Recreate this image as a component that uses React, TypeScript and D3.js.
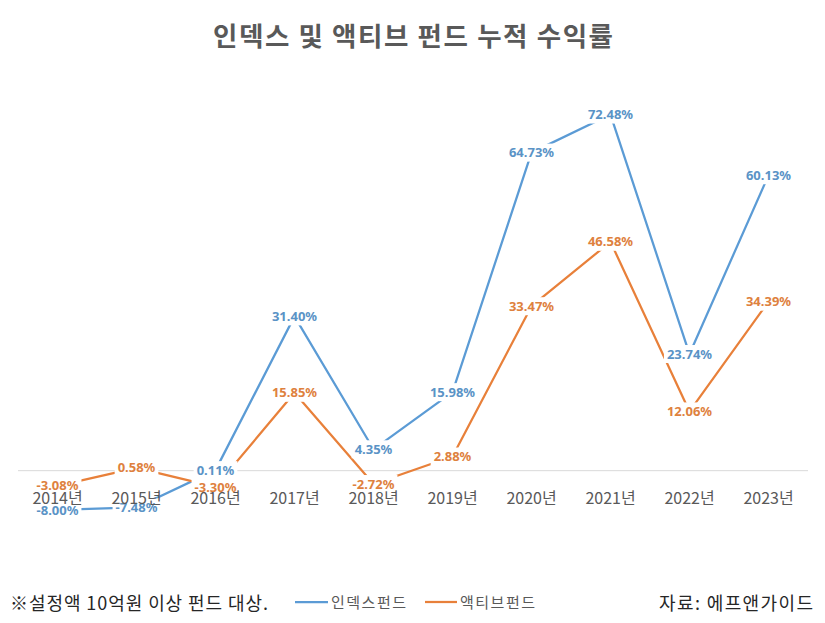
import React, { useEffect, useRef } from 'react';
import * as d3 from 'd3';

const years = ['2014년', '2015년', '2016년', '2017년', '2018년', '2019년', '2020년', '2021년', '2022년', '2023년'];
const indexFund = [-8.0, -7.48, 0.11, 31.4, 4.35, 15.98, 64.73, 72.48, 23.74, 60.13];
const activeFund = [-3.08, 0.58, -3.3, 15.85, -2.72, 2.88, 33.47, 46.58, 12.06, 34.39];
const seriesNames = ['인덱스펀드', '액티브펀드'];
const yDomain = [-10, 80];

const W = 825;
const H = 623;
const BLUE = '#5B9BD5';
const BLUE_TXT = '#5A93C6';
const ORANGE = '#E8803A';
const ORANGE_TXT = '#DE813E';
const KR = '"Noto Sans CJK KR", "Noto Sans", sans-serif';

export default function App() {
  const ref = useRef<SVGSVGElement>(null);

  useEffect(() => {
    const svg = d3.select(ref.current);
    svg.selectAll('*').remove();

    const x = d3.scaleBand<string>().domain(years).range([18, 808]).padding(0);
    const cx = (d: string) => (x(d) as number) + x.bandwidth() / 2;
    const y = d3.scaleLinear().domain(yDomain).range([519.8, 77.6]);

    // title
    svg.append('text')
      .attr('x', 213).attr('y', 45.5)
      .attr('textLength', 400).attr('lengthAdjust', 'spacing')
      .attr('font-family', KR).attr('font-weight', 700).attr('font-size', 26.5)
      .attr('fill', '#595959')
      .text('인덱스 및 액티브 펀드 누적 수익률');

    // zero line
    svg.append('line')
      .attr('x1', 18).attr('x2', 808)
      .attr('y1', y(0)).attr('y2', y(0))
      .attr('stroke', '#D9D9D9').attr('stroke-width', 1);

    const series = [
      { name: seriesNames[0], values: indexFund, color: BLUE, txt: BLUE_TXT },
      { name: seriesNames[1], values: activeFund, color: ORANGE, txt: ORANGE_TXT },
    ];

    const line = d3.line<number>()
      .x((_, i) => cx(years[i]))
      .y((v) => y(v));

    series.forEach((s) => {
      svg.append('path')
        .attr('d', line(s.values) as string)
        .attr('fill', 'none')
        .attr('stroke', s.color)
        .attr('stroke-width', 2.25)
        .attr('stroke-linejoin', 'round');
    });

    // data labels with white boxes
    series.forEach((s) => {
      s.values.forEach((v, i) => {
        const g = svg.append('g');
        const rect = g.append('rect').attr('fill', '#fff');
        const t = g.append('text')
          .attr('x', cx(years[i]))
          .attr('y', y(v))
          .attr('dy', '0.36em')
          .attr('text-anchor', 'middle')
          .attr('font-family', '"Noto Sans", sans-serif')
          .attr('font-weight', 700)
          .attr('font-size', 13)
          .attr('fill', s.txt)
          .text(v.toFixed(2) + '%');
        const w = (t.node() as SVGTextElement).getComputedTextLength();
        rect
          .attr('x', cx(years[i]) - w / 2 - 3)
          .attr('y', y(v) - 9)
          .attr('width', w + 6)
          .attr('height', 18);
      });
    });

    // category labels
    svg.append('g')
      .selectAll('text')
      .data(years)
      .join('text')
      .attr('x', (d) => cx(d))
      .attr('y', y(0) + 33)
      .attr('text-anchor', 'middle')
      .attr('font-family', KR)
      .attr('font-size', 16)
      .attr('fill', '#595959')
      .text((d) => d);

    // footer note
    svg.append('text')
      .attr('x', 10).attr('y', 610)
      .attr('textLength', 258).attr('lengthAdjust', 'spacing')
      .attr('font-family', KR).attr('font-size', 18)
      .attr('fill', '#262626')
      .text('※설정액 10억원 이상 펀드 대상.');

    svg.append('text')
      .attr('x', 659).attr('y', 610)
      .attr('textLength', 154).attr('lengthAdjust', 'spacing')
      .attr('font-family', KR).attr('font-size', 18)
      .attr('fill', '#262626')
      .text('자료: 에프앤가이드');

    // legend
    const legendPos = [
      { x1: 295, x2: 328, tx: 331 },
      { x1: 425, x2: 457, tx: 460 },
    ];
    series.forEach((s, i) => {
      const p = legendPos[i];
      svg.append('line')
        .attr('x1', p.x1).attr('x2', p.x2)
        .attr('y1', 602).attr('y2', 602)
        .attr('stroke', s.color).attr('stroke-width', 2.25);
      svg.append('text')
        .attr('x', p.tx).attr('y', 607.5)
        .attr('textLength', 75).attr('lengthAdjust', 'spacing')
        .attr('font-family', KR).attr('font-size', 15)
        .attr('fill', '#595959')
        .text(s.name);
    });
  }, []);

  return (
    <svg
      ref={ref}
      width={W}
      height={H}
      style={{ position: 'absolute', left: 0, top: 0, display: 'block', background: '#fff' }}
    />
  );
}
